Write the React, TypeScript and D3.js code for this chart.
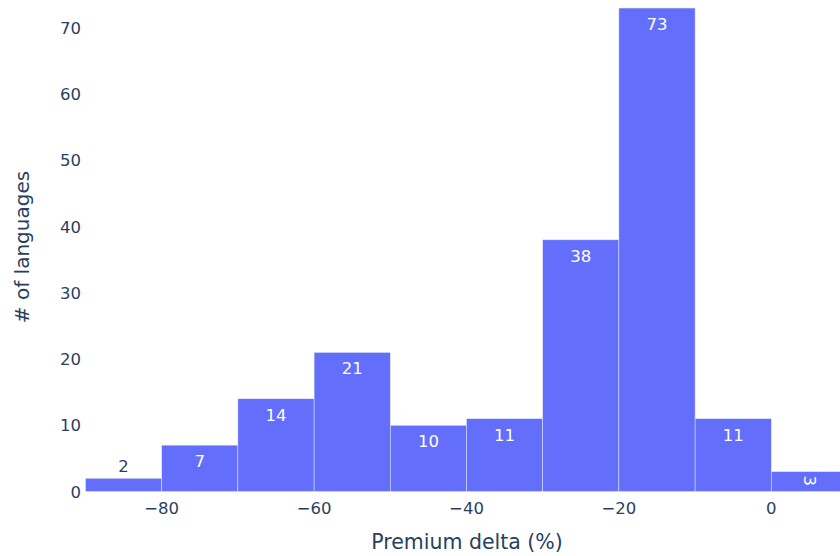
import React from "react";
import * as d3 from "d3";

const binStarts = [-90, -80, -70, -60, -50, -40, -30, -20, -10, 0];
const binWidth = 10;
const counts = [2, 7, 14, 21, 10, 11, 38, 73, 11, 3];
const xTicks = [-80, -60, -40, -20, 0];
const yTicks = [0, 10, 20, 30, 40, 50, 60, 70];
const xTitle = "Premium delta (%)";
const yTitle = "# of languages";

const W = 840;
const H = 556;
const FONT = "'DejaVu Sans', Verdana, sans-serif";
const TEXT = "#2a3f5f";
const BAR = "#636efa";
const LBL = 16.5;

export default function App() {
  const x = d3.scaleLinear().domain([-90, 10]).range([85.5, 847.5]);
  const y = d3.scaleLinear().domain([0, 70]).range([491.5, 27.9]);
  const fmt = (v: number) => (v < 0 ? "\u2212" + Math.abs(v) : String(v));

  return (
    <svg
      width={W}
      height={H}
      style={{ position: "absolute", left: 0, top: 0, background: "#fff" }}
      fontFamily={FONT}
    >
      <defs>
        <clipPath id="plotclip">
          <rect x={0} y={0} width={W} height={H} />
        </clipPath>
      </defs>
      <g clipPath="url(#plotclip)">
        {counts.map((c, i) => {
          const x0 = x(binStarts[i]);
          const x1 = x(binStarts[i] + binWidth);
          const yt = y(c);
          return (
            <rect
              key={i}
              x={x0}
              y={yt}
              width={x1 - x0}
              height={y(0) - yt}
              fill={BAR}
              stroke="#E5ECF6"
              strokeWidth={0.5}
            />
          );
        })}
        {counts.map((c, i) => {
          const cx = x(binStarts[i] + binWidth / 2);
          const yt = y(c);
          const h = y(0) - yt;
          if (h < 16) {
            return (
              <text key={"t" + i} x={cx} y={yt - 6} textAnchor="middle" fill={TEXT} fontSize={LBL}>
                {c}
              </text>
            );
          }
          if (h < 24) {
            return (
              <text
                key={"t" + i}
                x={0}
                y={0}
                transform={`translate(${cx},${yt + 9}) rotate(90)`}
                textAnchor="middle"
                dominantBaseline="central"
                fill="#fff"
                fontSize={LBL}
              >
                {c}
              </text>
            );
          }
          return (
            <text key={"t" + i} x={cx} y={yt + 22} textAnchor="middle" fill="#fff" fontSize={LBL}>
              {c}
            </text>
          );
        })}
      </g>
      {yTicks.map((t) => (
        <text key={"y" + t} x={81} y={y(t) + 6} textAnchor="end" fill={TEXT} fontSize={LBL}>
          {t}
        </text>
      ))}
      {xTicks.map((t) => (
        <text key={"x" + t} x={x(t)} y={514} textAnchor="middle" fill={TEXT} fontSize={LBL}>
          {fmt(t)}
        </text>
      ))}
      <text x={467} y={549} textAnchor="middle" fill={TEXT} fontSize={20.5}>
        {xTitle}
      </text>
      <text
        transform={`translate(29,${247}) rotate(-90)`}
        textAnchor="middle"
        fill={TEXT}
        fontSize={20}
      >
        {yTitle}
      </text>
    </svg>
  );
}
